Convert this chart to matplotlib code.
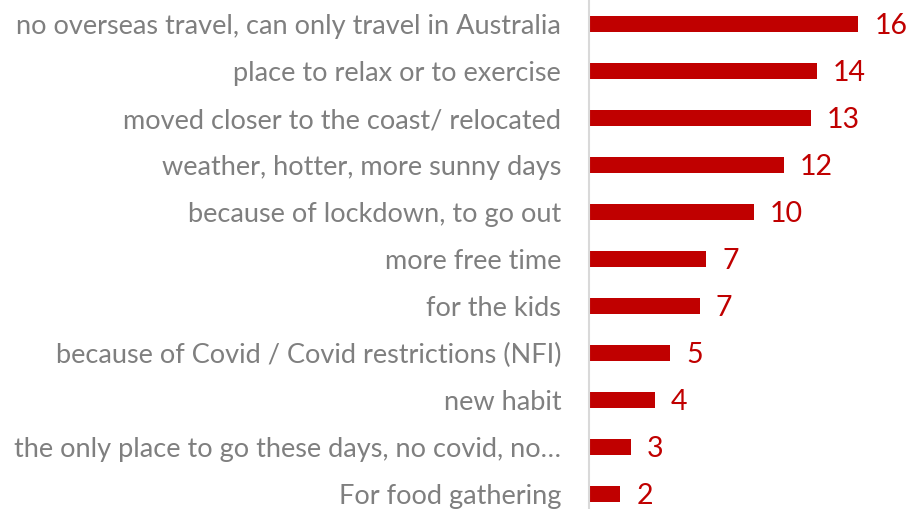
import matplotlib.pyplot as plt

# categories, top to bottom as in the chart
categories = [
    "no overseas travel, can only travel in Australia",
    "place to relax or to exercise",
    "moved closer to the coast/ relocated",
    "weather, hotter, more sunny days",
    "because of lockdown, to go out",
    "more free time",
    "for the kids",
    "because of Covid / Covid restrictions (NFI)",
    "new habit",
    "the only place to go these days, no covid, no\u2026",
    "For food gathering",
]
values = [16.3, 13.8, 13.45, 11.8, 10.0, 7.1, 6.7, 4.9, 4.0, 2.52, 1.9]

red = "#C00000"
grey = "#7F7F7F"
plt.rcParams['font.family'] = ['Lato', 'DejaVu Sans']

W, H = 912, 509
fig = plt.figure(figsize=(W / 100, H / 100), dpi=100)
# axes spans from the axis line to the right edge; rows are 47 px apart
n = len(categories)
ax = fig.add_axes([589 / W, (H - (0.5 + 47 * n)) / H, (W - 589) / W, 47 * n / H])

ypos = list(range(n))
bars = ax.barh(ypos, values, height=0.36, color=red)
ax.set_ylim(n - 0.5, -0.5)
ax.set_xlim(0, (W - 589) / 16.52)

ax.set_yticks(ypos)
ax.set_yticklabels(categories, fontsize=19.5, color=grey)
ax.tick_params(axis='y', length=0, pad=20)
ax.set_xticks([])

for s in ['top', 'right', 'bottom']:
    ax.spines[s].set_visible(False)
ax.spines['left'].set_color('#D9D9D9')
ax.spines['left'].set_linewidth(1.5)

for b, v in zip(bars, values):
    ax.annotate(f"{v:.0f}", (b.get_width(), b.get_y() + b.get_height() / 2),
                xytext=(16, -2), textcoords='offset pixels',
                ha='left', va='center', fontsize=20.5, color=red)

fig.savefig('out.png', dpi=100)
